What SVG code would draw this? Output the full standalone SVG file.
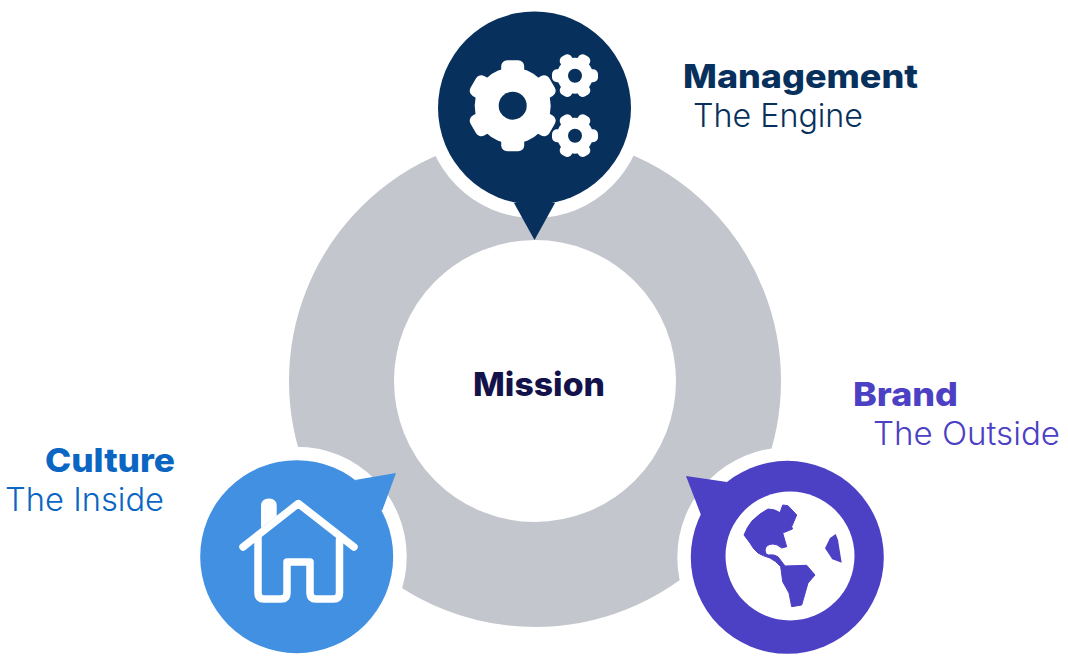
<svg xmlns="http://www.w3.org/2000/svg" width="1068" height="672" viewBox="0 0 1068 672">
<style>
.b{font-family:"Inter","Liberation Sans",sans-serif;font-size:33px;font-weight:800}
.r{font-family:"Inter","Liberation Sans",sans-serif;font-size:32px;font-weight:300}
.w{fill:#fff}
.navy{fill:#07305c}
.sky{fill:#4190e2}
.violet{fill:#4c40c4}
</style>
<defs>
<g id="gear-big" class="w">
<circle r="38"/>
<rect x="-11.500" y="-45.500" width="23" height="91" rx="6"/>
<rect x="-11.500" y="-45.500" width="23" height="91" rx="6" transform="rotate(60)"/>
<rect x="-11.500" y="-45.500" width="23" height="91" rx="6" transform="rotate(120)"/>
<circle r="14" class="navy"/>
</g>
<g id="gear-small" class="w">
<circle r="18"/>
<rect x="-23" y="-6.500" width="46" height="13" rx="5"/>
<rect x="-23" y="-6.500" width="46" height="13" rx="5" transform="rotate(60)"/>
<rect x="-23" y="-6.500" width="46" height="13" rx="5" transform="rotate(120)"/>
<circle r="7" class="navy"/>
</g>
</defs>
<rect width="1068" height="672" fill="#fff"/>
<g id="ring"><circle cx="535" cy="381" r="193.500" fill="none" stroke="#c3c6cd" stroke-width="105"/></g>
<g id="management">
<circle cx="534.500" cy="108" r="110" class="w"/>
<path d="M514 203L534.500 240L555 203Z" class="navy"/>
<circle cx="534.500" cy="108" r="96.500" class="navy"/>
<use href="#gear-big" x="512.700" y="105.700"/>
<use href="#gear-small" x="575" y="75.700"/>
<use href="#gear-small" x="575" y="135.700"/>
<text x="683" y="88" class="b navy" textLength="235" lengthAdjust="spacingAndGlyphs">Management</text>
<text x="693" y="127" class="r navy" textLength="170" lengthAdjust="spacingAndGlyphs">The Engine</text>
</g>
<g id="culture">
<circle cx="296.700" cy="556.700" r="110" class="w"/>
<path d="M355 480L396 473L382 511Z" class="sky"/>
<circle cx="296.700" cy="556.700" r="96.500" class="sky"/>
<path d="M243 547L298.300 503.500L354 547M258 537V593Q258 599 264 599H281Q287 599 287 593V562H310V593Q310 599 316 599H333.500Q339.500 599 339.500 593V540" fill="none" stroke="#fff" stroke-width="7.500" stroke-linecap="round" stroke-linejoin="round"/>
<path d="M261 528V506Q261 498.500 269 498.500Q276.700 498.500 276.700 506V516Z" class="w"/>
<text x="45" y="472" class="b" fill="#0a66c2" textLength="130" lengthAdjust="spacingAndGlyphs">Culture</text>
<text x="5" y="511" class="r" fill="#0a66c2" textLength="159" lengthAdjust="spacingAndGlyphs">The Inside</text>
</g>
<g id="brand">
<circle cx="787.300" cy="557.300" r="110" class="w"/>
<path d="M727 482L686 476L701 515Z" class="violet"/>
<circle cx="787.300" cy="557.300" r="96.500" class="violet"/>
<circle cx="790" cy="556" r="64.500" class="w"/>
<path d="M744 535Q747 527 752 521Q760 513 768 509Q775 509 780 512.700L782.700 505L788 505.700L796.700 515L791.700 526.700L792.500 529L782.700 533L786.700 546.700L781.700 548Q777 544 773 544Q766 544 765 550Q765 554 768 555Q774 554 778 556.700L785 566L806.700 565.300L815 575L808 583L801.700 605L791.700 606.700L789 593L782.700 581.700L780.700 566.700Q776 561 770 558Q763 556 758 553Q753 549 750 543Z" class="violet" stroke="#4c40c4" stroke-width="1" stroke-linejoin="round"/>
<path d="M835.700 534L838 540L841.700 562.700L832.300 559.300L825 548.300L830 538Z" class="violet"/>
<text x="853" y="406" class="b violet" textLength="105" lengthAdjust="spacingAndGlyphs">Brand</text>
<text x="873" y="445" class="r violet" textLength="187" lengthAdjust="spacingAndGlyphs">The Outside</text>
</g>
<g id="mission"><text x="473" y="396" class="b" fill="#14124a" textLength="132" lengthAdjust="spacingAndGlyphs">Mission</text></g>
</svg>
